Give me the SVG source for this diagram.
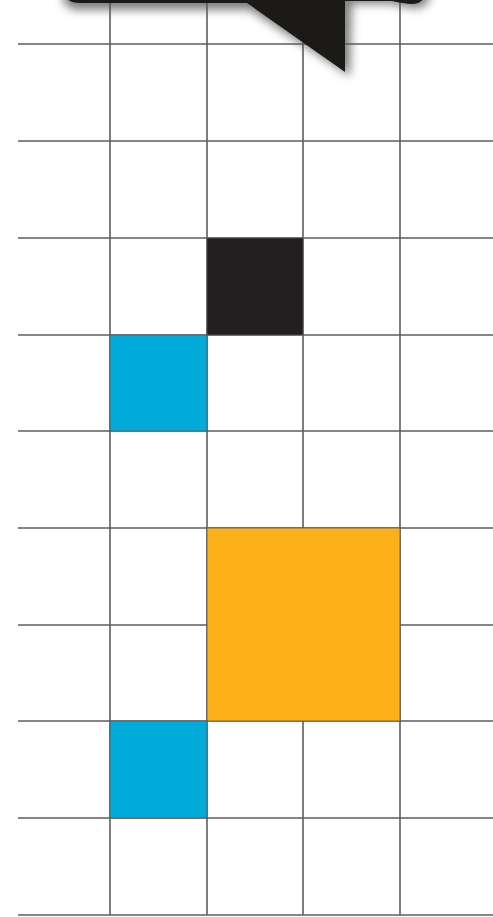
<svg xmlns="http://www.w3.org/2000/svg" width="493" height="917" viewBox="0 0 493 917">
<defs>
<style>
.g{stroke:#5e5e5e;stroke-width:1.6;fill:none}
.cell{stroke:#555;stroke-width:0.8}
</style>
<filter id="sh" x="-20%" y="-50%" width="140%" height="250%">
<feGaussianBlur stdDeviation="5"/>
</filter>
</defs>
<rect width="493" height="917" fill="#fff"/>
<g id="grid">
<path class="g" d="M110,0V915M207,0V915M303,0V915M400,0V915"/>
<path class="g" d="M18,44H493M18,141H493M18,238H493M18,335H493M18,431H493M18,528H493M18,625H493M18,721H493M18,818H493M18,915H493"/>
</g>
<g id="cells">
<rect class="cell" x="207" y="238" width="96" height="97" fill="#231f20"/>
<rect class="cell" x="110" y="335" width="97" height="96" fill="#00aad9"/>
<rect class="cell" x="207" y="528" width="193" height="193" fill="#fbb018"/>
<rect class="cell" x="110" y="721" width="97" height="97" fill="#00aad9"/>
</g>
<g id="bubble">
<path d="M62,-30H430V-8Q430,10 412,8Q400,6 390,4H352L350,76L250,10H80Q62,10 62,-8Z" fill="#555" opacity="0.75" filter="url(#sh)"/>
<path d="M62,-30H425V-10Q425,5 410,4Q400,3 392,1H345V72L247,3H80Q64,3 64,-10Z" fill="#1c1a17"/>
</g>
</svg>
